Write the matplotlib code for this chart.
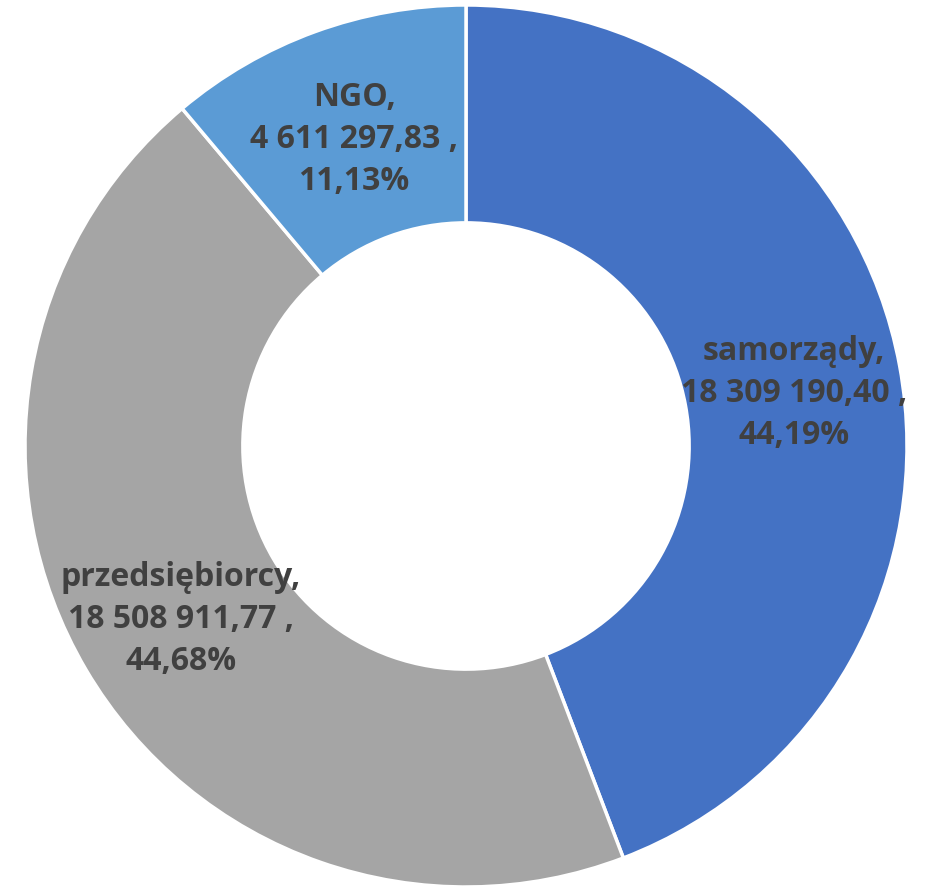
import matplotlib.pyplot as plt

# data
labels = ['samorządy', 'przedsiębiorcy', 'NGO']
values = [18309190.40, 18508911.77, 4611297.83]
colors = ['#4472C4', '#A5A5A5', '#5B9BD5']

W, H = 925, 888
CX, CY = 466, H - 446
R = 441

# label centres in pixel coords (from the top)
label_pos = [(794, 394), (181, 619), (354, 140)]


def fmt_value(v):
    s = '{:,.2f}'.format(v)
    return s.replace(',', ' ').replace('.', ',')


total = sum(values)

fig = plt.figure(figsize=(W / 100, H / 100), dpi=100)
ax = fig.add_axes([0, 0, 1, 1])
ax.pie(values, colors=colors, startangle=90, counterclock=False,
       center=(CX, CY), radius=R,
       wedgeprops=dict(width=R * 0.494, edgecolor='white', linewidth=2.5))
ax.set_xlim(0, W)
ax.set_ylim(0, H)
ax.set_aspect('equal')
ax.axis('off')

for name, v, (px, py) in zip(labels, values, label_pos):
    pct = '{:.2f}%'.format(v / total * 100).replace('.', ',')
    txt = '{},\n{} ,\n{}'.format(name, fmt_value(v), pct)
    ax.text(px, H - py, txt, ha='center', va='center', fontsize=23,
            fontweight='bold', family='Open Sans', color='#404040',
            linespacing=1.36)

fig.savefig('out.png', dpi=100)
